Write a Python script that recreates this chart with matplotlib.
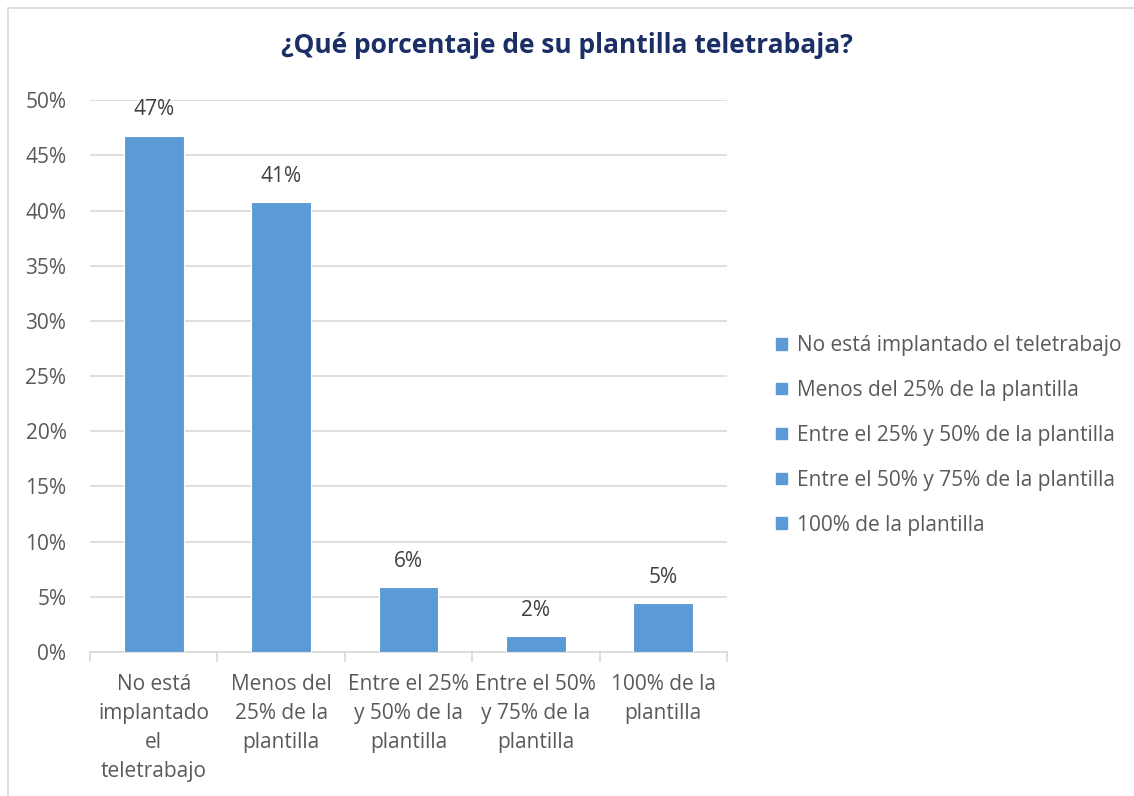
import matplotlib.pyplot as plt
from matplotlib.patches import Rectangle
from matplotlib.ticker import FixedLocator, PercentFormatter

categorias = ['No está implantado el teletrabajo', 'Menos del 25% de la plantilla',
              'Entre el 25% y 50% de la plantilla', 'Entre el 50% y 75% de la plantilla',
              '100% de la plantilla']
etiquetas_x = ['No está\nimplantado\nel\nteletrabajo', 'Menos del\n25% de la\nplantilla',
               'Entre el 25%\ny 50% de la\nplantilla', 'Entre el 50%\ny 75% de la\nplantilla',
               '100% de la\nplantilla']
valores = [46.8, 40.8, 5.9, 1.4, 4.4]
etiquetas_valor = ['47%', '41%', '6%', '2%', '5%']

plt.rcParams['font.family'] = ['Open Sans', 'DejaVu Sans']

azul = '#5B9BD5'
gris_texto = '#595959'

fig = plt.figure(figsize=(11.34, 7.96), dpi=100)
ax = fig.add_axes([0.0794, 0.181, 0.5617, 0.693])

x = range(len(valores))
barras = ax.bar(x, valores, width=0.47, color=azul, edgecolor='white', linewidth=0.8,
                zorder=3)

for b, txt in zip(barras, etiquetas_valor):
    ax.annotate(txt, (b.get_x() + b.get_width() / 2, b.get_height()),
                xytext=(0, 11), textcoords='offset points', ha='center', va='bottom',
                fontsize=15, color='#404040')

ax.set_xlim(-0.5, len(valores) - 0.5)
ax.set_ylim(0, 50)
ax.set_yticks(range(0, 51, 5))
ax.yaxis.set_major_formatter(PercentFormatter(decimals=0))
ax.grid(axis='y', color='#D9D9D9', linewidth=1.2, zorder=0)
ax.tick_params(axis='y', length=0, labelsize=15, labelcolor=gris_texto, pad=17)

ax.set_xticks(list(x))
ax.set_xticklabels(etiquetas_x, fontsize=15, color=gris_texto, linespacing=1.5)
ax.tick_params(axis='x', which='major', length=0, pad=16)
ax.xaxis.set_minor_locator(FixedLocator([i - 0.5 for i in range(len(valores) + 1)]))
ax.tick_params(axis='x', which='minor', length=7, color='#D9D9D9', width=1.2)

for s in ['top', 'right', 'left']:
    ax.spines[s].set_visible(False)
ax.spines['bottom'].set_color('#D9D9D9')
ax.spines['bottom'].set_linewidth(1.2)

# legend: one entry per category, all same colour
handles = [Rectangle((0, 0), 1, 1, color=azul) for _ in categorias]
fig.legend(handles, categorias, loc='center left', bbox_to_anchor=(0.668, 0.453),
           frameon=False, fontsize=15, labelcolor=gris_texto, handlelength=0.5,
           handleheight=0.5, handletextpad=0.5, labelspacing=1.15)

fig.text(0.5, 0.943, '¿Qué porcentaje de su plantilla teletrabaja?', ha='center', va='center',
         fontsize=19, fontweight='bold', color='#1B2F66')

fig.patches.append(Rectangle((0.007, -0.01), 1.0, 1.0, transform=fig.transFigure,
                             fill=False, edgecolor='#D9D9D9', linewidth=1.2))

fig.savefig('out.png', dpi=100)
